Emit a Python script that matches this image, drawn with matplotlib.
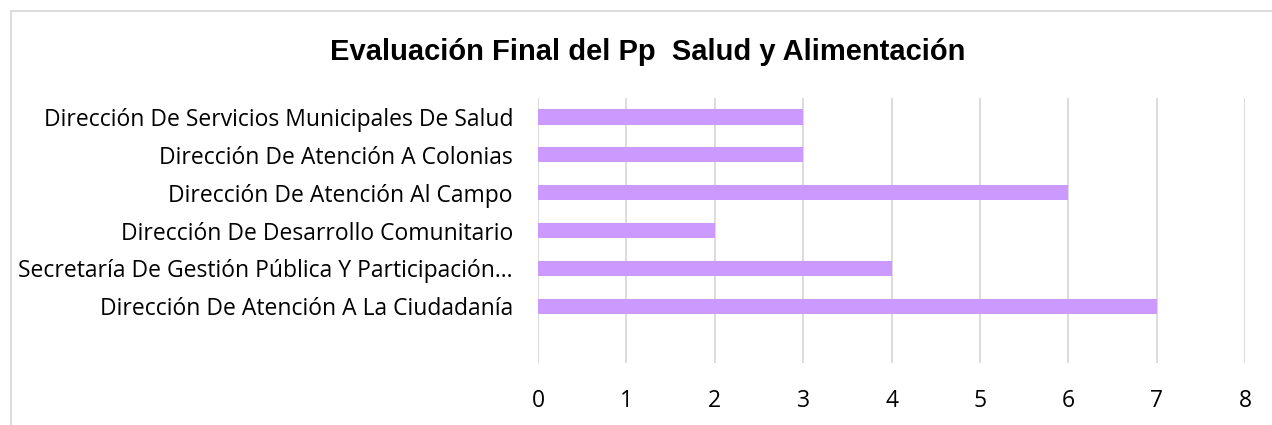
import matplotlib.pyplot as plt
from matplotlib.patches import Rectangle

# Data (bottom to top, first slot is an empty row)
categories = ['', 'Dirección De Atención A La Ciudadanía',
              'Secretaría De Gestión Pública Y Participación…',
              'Dirección De Desarrollo Comunitario',
              'Dirección De Atención Al Campo',
              'Dirección De Atención A Colonias',
              'Dirección De Servicios Municipales De Salud']
values = [0, 7, 4, 2, 6, 3, 3]
xticks = [0, 1, 2, 3, 4, 5, 6, 7, 8]

W, H = 1272, 425
fig = plt.figure(figsize=(W / 100, H / 100), dpi=100)
ax = fig.add_axes([538 / W, 1 - 363 / H, (1245 - 538) / W, (363 - 98) / H])

# Bars
ypos = list(range(len(categories)))
bars = ax.barh(ypos, values, height=0.4, color='#CC99FF', zorder=3)
bars[0].set_visible(False)

ax.set_xlim(0, 8)
ax.set_ylim(-0.5, len(categories) - 0.5)
ax.set_xticks(xticks)
ax.set_xticklabels([str(t) for t in xticks], fontsize=16.5, family='Open Sans')
ax.set_yticks(ypos)
ax.set_yticklabels(categories, fontsize=16.5, family='Open Sans')
ax.tick_params(length=0)
ax.tick_params(axis='x', pad=19)
ax.tick_params(axis='y', pad=18)
ax.grid(axis='x', color='#D9D9D9', linewidth=1.3, zorder=0)
for s in ax.spines.values():
    s.set_visible(False)

# Title
fig.text(648 / W, 1 - 52 / H, 'Evaluación Final del Pp  Salud y Alimentación',
         ha='center', va='center', fontsize=21, fontweight='bold',
         family='Liberation Sans')

# Chart border
fig.patches.append(Rectangle((10.5 / W, -0.5), 1.5, 1.5 - 10.5 / H,
                             transform=fig.transFigure, fill=False,
                             edgecolor='#D9D9D9', linewidth=1.3))

fig.savefig('out.png', dpi=100)
